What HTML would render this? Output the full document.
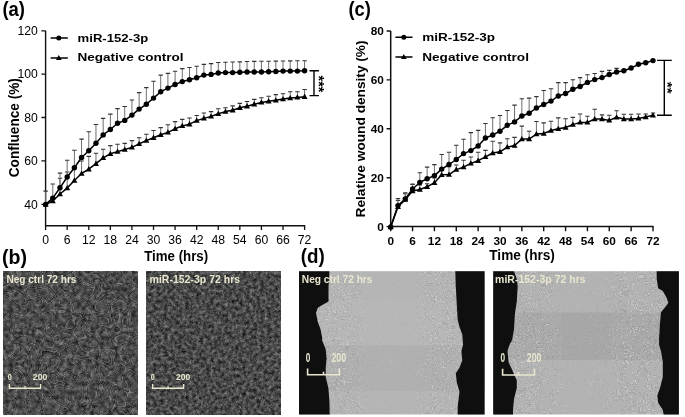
<!DOCTYPE html>
<html><head><meta charset="utf-8"><style>
html,body{margin:0;padding:0;background:#fff;}
svg{display:block;will-change:transform;filter:blur(0.3px);}
</style></head><body>
<svg width="685" height="417" viewBox="0 0 685 417">
<rect width="685" height="417" fill="#fff"/>
<defs><filter id="fb1" x="0" y="0" width="100%" height="100%" color-interpolation-filters="sRGB">
<feTurbulence type="fractalNoise" baseFrequency="0.22" numOctaves="2" seed="3" result="n1"/>
<feColorMatrix in="n1" type="matrix" values="0.45 0 0 0 0.06999999999999999  0.45 0 0 0 0.06999999999999999  0.45 0 0 0 0.06999999999999999  0 0 0 0 1" result="g1"/>
<feTurbulence type="fractalNoise" baseFrequency="0.07" numOctaves="1" seed="2" result="n2"/>
<feColorMatrix in="n2" type="matrix" values="1 0 0 0 0  1 0 0 0 0  1 0 0 0 0  0 0 0 0 1" result="g2"/>
<feComponentTransfer in="g2" result="c"><feFuncR type="table" tableValues="0.500 0.500 0.500 0.500 0.500 0.500 0.500 0.500 0.500 0.500 0.500 0.500 0.500 0.500 0.500 0.500 0.500 0.500 0.500 0.500 0.500 0.500 0.640 0.400 0.500 0.500 0.640 0.400 0.500 0.500 0.500 0.640 0.400 0.500 0.500 0.500 0.640 0.400 0.500 0.500 0.500 0.500 0.500 0.500 0.500 0.500 0.500 0.500 0.500 0.500 0.500 0.500 0.500 0.500 0.500 0.500 0.500 0.500 0.500 0.500 0.500"/><feFuncG type="table" tableValues="0.500 0.500 0.500 0.500 0.500 0.500 0.500 0.500 0.500 0.500 0.500 0.500 0.500 0.500 0.500 0.500 0.500 0.500 0.500 0.500 0.500 0.500 0.640 0.400 0.500 0.500 0.640 0.400 0.500 0.500 0.500 0.640 0.400 0.500 0.500 0.500 0.640 0.400 0.500 0.500 0.500 0.500 0.500 0.500 0.500 0.500 0.500 0.500 0.500 0.500 0.500 0.500 0.500 0.500 0.500 0.500 0.500 0.500 0.500 0.500 0.500"/><feFuncB type="table" tableValues="0.500 0.500 0.500 0.500 0.500 0.500 0.500 0.500 0.500 0.500 0.500 0.500 0.500 0.500 0.500 0.500 0.500 0.500 0.500 0.500 0.500 0.500 0.640 0.400 0.500 0.500 0.640 0.400 0.500 0.500 0.500 0.640 0.400 0.500 0.500 0.500 0.640 0.400 0.500 0.500 0.500 0.500 0.500 0.500 0.500 0.500 0.500 0.500 0.500 0.500 0.500 0.500 0.500 0.500 0.500 0.500 0.500 0.500 0.500 0.500 0.500"/></feComponentTransfer>
<feComposite in="g1" in2="c" operator="arithmetic" k1="0" k2="1" k3="1" k4="-0.5"/>
<feGaussianBlur stdDeviation="0.4"/>
</filter><filter id="fb2" x="0" y="0" width="100%" height="100%" color-interpolation-filters="sRGB">
<feTurbulence type="fractalNoise" baseFrequency="0.28" numOctaves="2" seed="5" result="n1"/>
<feColorMatrix in="n1" type="matrix" values="0.55 0 0 0 0.009999999999999953  0.55 0 0 0 0.009999999999999953  0.55 0 0 0 0.009999999999999953  0 0 0 0 1" result="g1"/>
<feTurbulence type="fractalNoise" baseFrequency="0.13" numOctaves="1" seed="6" result="n2"/>
<feColorMatrix in="n2" type="matrix" values="1 0 0 0 0  1 0 0 0 0  1 0 0 0 0  0 0 0 0 1" result="g2"/>
<feComponentTransfer in="g2" result="c"><feFuncR type="table" tableValues="0.500 0.500 0.500 0.500 0.500 0.500 0.500 0.500 0.500 0.500 0.500 0.500 0.500 0.500 0.500 0.500 0.500 0.500 0.500 0.500 0.500 0.500 0.500 0.500 0.600 0.420 0.500 0.500 0.500 0.500 0.600 0.420 0.500 0.500 0.500 0.500 0.600 0.420 0.500 0.500 0.500 0.500 0.500 0.500 0.500 0.500 0.500 0.500 0.500 0.500 0.500 0.500 0.500 0.500 0.500 0.500 0.500 0.500 0.500 0.500 0.500"/><feFuncG type="table" tableValues="0.500 0.500 0.500 0.500 0.500 0.500 0.500 0.500 0.500 0.500 0.500 0.500 0.500 0.500 0.500 0.500 0.500 0.500 0.500 0.500 0.500 0.500 0.500 0.500 0.600 0.420 0.500 0.500 0.500 0.500 0.600 0.420 0.500 0.500 0.500 0.500 0.600 0.420 0.500 0.500 0.500 0.500 0.500 0.500 0.500 0.500 0.500 0.500 0.500 0.500 0.500 0.500 0.500 0.500 0.500 0.500 0.500 0.500 0.500 0.500 0.500"/><feFuncB type="table" tableValues="0.500 0.500 0.500 0.500 0.500 0.500 0.500 0.500 0.500 0.500 0.500 0.500 0.500 0.500 0.500 0.500 0.500 0.500 0.500 0.500 0.500 0.500 0.500 0.500 0.600 0.420 0.500 0.500 0.500 0.500 0.600 0.420 0.500 0.500 0.500 0.500 0.600 0.420 0.500 0.500 0.500 0.500 0.500 0.500 0.500 0.500 0.500 0.500 0.500 0.500 0.500 0.500 0.500 0.500 0.500 0.500 0.500 0.500 0.500 0.500 0.500"/></feComponentTransfer>
<feComposite in="g1" in2="c" operator="arithmetic" k1="0" k2="1" k3="1" k4="-0.5"/>
<feGaussianBlur stdDeviation="0.45"/>
</filter><filter id="fd" x="0" y="0" width="100%" height="100%" color-interpolation-filters="sRGB">
<feTurbulence type="fractalNoise" baseFrequency="0.085" numOctaves="1" seed="9"/>
<feColorMatrix type="matrix" values="1 0 0 0 0  1 0 0 0 0  1 0 0 0 0  1 0 0 0 0"/>
<feComponentTransfer><feFuncR type="table" tableValues="0.500 0.500 0.500 0.500 0.500 0.500 0.500 0.500 0.500 0.500 0.500 0.500 0.500 0.500 0.500 0.500 0.500 0.500 0.500 0.500 0.500 0.500 0.500 1.000 0.250 0.500 0.500 0.500 1.000 0.250 0.500 0.500 1.000 0.250 0.500 0.500 0.500 1.000 0.250 0.500 0.500 0.500 0.500 0.500 0.500 0.500 0.500 0.500 0.500 0.500 0.500 0.500 0.500 0.500 0.500 0.500 0.500 0.500 0.500 0.500 0.500"/><feFuncG type="table" tableValues="0.500 0.500 0.500 0.500 0.500 0.500 0.500 0.500 0.500 0.500 0.500 0.500 0.500 0.500 0.500 0.500 0.500 0.500 0.500 0.500 0.500 0.500 0.500 1.000 0.250 0.500 0.500 0.500 1.000 0.250 0.500 0.500 1.000 0.250 0.500 0.500 0.500 1.000 0.250 0.500 0.500 0.500 0.500 0.500 0.500 0.500 0.500 0.500 0.500 0.500 0.500 0.500 0.500 0.500 0.500 0.500 0.500 0.500 0.500 0.500 0.500"/><feFuncB type="table" tableValues="0.500 0.500 0.500 0.500 0.500 0.500 0.500 0.500 0.500 0.500 0.500 0.500 0.500 0.500 0.500 0.500 0.500 0.500 0.500 0.500 0.500 0.500 0.500 1.000 0.250 0.500 0.500 0.500 1.000 0.250 0.500 0.500 1.000 0.250 0.500 0.500 0.500 1.000 0.250 0.500 0.500 0.500 0.500 0.500 0.500 0.500 0.500 0.500 0.500 0.500 0.500 0.500 0.500 0.500 0.500 0.500 0.500 0.500 0.500 0.500 0.500"/><feFuncA type="table" tableValues="0.000 0.000 0.000 0.000 0.000 0.000 0.000 0.000 0.000 0.000 0.000 0.000 0.000 0.000 0.000 0.000 0.000 0.000 0.000 0.000 0.000 0.000 0.000 1.000 0.450 0.000 0.000 0.000 1.000 0.450 0.000 0.000 1.000 0.450 0.000 0.000 0.000 1.000 0.450 0.000 0.000 0.000 0.000 0.000 0.000 0.000 0.000 0.000 0.000 0.000 0.000 0.000 0.000 0.000 0.000 0.000 0.000 0.000 0.000 0.000 0.000"/></feComponentTransfer>
<feGaussianBlur stdDeviation="0.45"/>
</filter></defs>
<rect x="3" y="271.2" width="135" height="143.4" filter="url(#fb1)"/>
<rect x="146.2" y="271.2" width="134.6" height="143.4" filter="url(#fb2)"/>
<rect x="299" y="271.2" width="185.6" height="143.3" fill="#b5b5b5"/>
<rect x="299" y="345.2" width="185.6" height="45.8" fill="#b0b0b0"/>
<rect x="299" y="299" width="185.6" height="46.2" fill="#b7b7b7"/>
<defs><linearGradient id="gd1" gradientUnits="userSpaceOnUse" x1="299" x2="484.6" y1="0" y2="0">
<stop offset="0" stop-color="#fff"/><stop offset="0.25" stop-color="#fff"/><stop offset="0.38" stop-color="#333"/><stop offset="0.62" stop-color="#333"/><stop offset="0.72" stop-color="#fff"/><stop offset="1" stop-color="#fff"/></linearGradient>
<mask id="md1"><rect x="299" y="271.2" width="185.6" height="143.3" fill="url(#gd1)"/></mask>
<linearGradient id="gd2" gradientUnits="userSpaceOnUse" x1="493.2" x2="678.9" y1="0" y2="0">
<stop offset="0" stop-color="#fff"/><stop offset="0.3" stop-color="#ddd"/><stop offset="0.4" stop-color="#444"/><stop offset="0.6" stop-color="#555"/><stop offset="0.7" stop-color="#fff"/><stop offset="1" stop-color="#fff"/></linearGradient>
<mask id="md2"><rect x="493.2" y="271.2" width="185.7" height="143.3" fill="url(#gd2)"/></mask></defs>
<rect x="299" y="271.2" width="185.6" height="143.3" filter="url(#fd)" opacity="0.3" mask="url(#md1)"/>
<path d="M299 271.2H329.4L328.5 288L328.5 301.4L322.3 305L317.8 307.7L316 313L317.8 322L320.5 329.3L322.3 338.3L322 340L325.7 349.2L326.6 358.5L325.7 367.7L325.7 377L328.4 388L329.4 400.9L329.7 414.5H299Z" fill="#0f0f0f"/>
<path d="M484.6 271.2H455.3L455.8 286.5L456.8 304.9L457.7 319.7L459.5 327L462.3 334.4L463 345L461.4 351L462.3 360.3L459.5 367.7L455.8 373.2L456.8 382.4L459.5 391.7L458.6 399L457.7 406.4L457.7 414.5H484.6Z" fill="#0f0f0f"/>
<rect x="493.2" y="271.2" width="185.7" height="143.3" fill="#b3b3b3"/>
<rect x="493.2" y="312.6" width="185.7" height="47.2" fill="#aaaaaa"/>
<rect x="562" y="312.6" width="50" height="47.2" fill="#a4a4a4" opacity="0.5"/>
<rect x="493.2" y="271.2" width="185.7" height="143.3" filter="url(#fd)" opacity="0.33" mask="url(#md2)"/>
<path d="M493.2 271.2H514L516.8 279L517.7 286.5L516.8 301.2L514.9 314L514 328.9L512.1 340L509.4 345L507.5 351L508.5 362L512 369.5L516.8 380.6L516.8 388L514 399L513 410L513 414.5H493.2Z" fill="#0f0f0f"/>
<path d="M678.9 271.2H656.7L656.7 279L658.2 288.3L662.8 291L666.5 297.5L668.4 303L664.7 307.7L661 312.3L660 323.4L659.1 338L659.1 345L661 351L662.8 362L662.8 377L660 388L657.3 395.4L658.2 402.7L662.8 410L663.7 414.5H678.9Z" fill="#0f0f0f"/>
<text x="6.4" y="282.6" text-anchor="start" fill="#e9e6cf" style="font:bold 10.3px 'Liberation Sans',sans-serif" textLength="70.1" lengthAdjust="spacingAndGlyphs">Neg ctrl 72 hrs</text>
<text x="149.6" y="282.6" text-anchor="start" fill="#e9e6cf" style="font:bold 10.3px 'Liberation Sans',sans-serif" textLength="90.5" lengthAdjust="spacingAndGlyphs">miR-152-3p 72 hrs</text>
<text x="301.8" y="282.6" text-anchor="start" fill="#e9e6cf" style="font:bold 10.3px 'Liberation Sans',sans-serif" textLength="70.7" lengthAdjust="spacingAndGlyphs">Neg ctrl 72 hrs</text>
<text x="495.1" y="282.6" text-anchor="start" fill="#e9e6cf" style="font:bold 10.3px 'Liberation Sans',sans-serif" textLength="90.5" lengthAdjust="spacingAndGlyphs">miR-152-3p 72 hrs</text>
<path d="M9.4 384.1V388.2H40.6V384.1M25 388.2V386.2" stroke="#e9e6cf" stroke-width="1.4" fill="none"/>
<text x="7.8" y="380.3" text-anchor="start" fill="#e9e6cf" style="font:bold 9.078212290502794px 'Liberation Sans',sans-serif" textLength="4" lengthAdjust="spacingAndGlyphs">0</text>
<text x="32.8" y="380.3" text-anchor="start" fill="#e9e6cf" style="font:bold 9.078212290502794px 'Liberation Sans',sans-serif" textLength="14.6" lengthAdjust="spacingAndGlyphs">200</text>
<path d="M152.6 384.1V388.2H183.6V384.1M168.1 388.2V386.2" stroke="#e9e6cf" stroke-width="1.4" fill="none"/>
<text x="150.8" y="380.3" text-anchor="start" fill="#e9e6cf" style="font:bold 9.078212290502794px 'Liberation Sans',sans-serif" textLength="4" lengthAdjust="spacingAndGlyphs">0</text>
<text x="176" y="380.3" text-anchor="start" fill="#e9e6cf" style="font:bold 9.078212290502794px 'Liberation Sans',sans-serif" textLength="14.2" lengthAdjust="spacingAndGlyphs">200</text>
<path d="M307.6 368.5V374.8H339.4V368.5M323.5 374.8V371.8" stroke="#e9e6cf" stroke-width="1.6" fill="none"/>
<text x="305.7" y="362.3" text-anchor="start" fill="#e9e6cf" style="font:bold 12.569832402234637px 'Liberation Sans',sans-serif" textLength="4.6" lengthAdjust="spacingAndGlyphs">0</text>
<text x="331.4" y="362.3" text-anchor="start" fill="#e9e6cf" style="font:bold 12.569832402234637px 'Liberation Sans',sans-serif" textLength="14.8" lengthAdjust="spacingAndGlyphs">200</text>
<path d="M502.6 368.7V375H534.4V368.7M518.5 375V372" stroke="#e9e6cf" stroke-width="1.6" fill="none"/>
<text x="500.5" y="362.3" text-anchor="start" fill="#e9e6cf" style="font:bold 12.569832402234637px 'Liberation Sans',sans-serif" textLength="4.6" lengthAdjust="spacingAndGlyphs">0</text>
<text x="526.8" y="362.3" text-anchor="start" fill="#e9e6cf" style="font:bold 12.569832402234637px 'Liberation Sans',sans-serif" textLength="14.7" lengthAdjust="spacingAndGlyphs">200</text>
<text x="2.4" y="16.4" text-anchor="start" fill="#000" style="font:bold 21px 'Liberation Sans',sans-serif" textLength="22.6" lengthAdjust="spacingAndGlyphs">(a)</text>
<path d="M45.6 30.8V226.3M45 225.7H305.2" stroke="#111" stroke-width="1.4" fill="none"/>
<path d="M41.4 30.8H45.6M41.4 74.1H45.6M41.4 117.5H45.6M41.4 160.9H45.6M41.4 204.3H45.6" stroke="#111" stroke-width="1.3"/>
<path d="M45.6 225.7V229.9M67.18 225.7V229.9M88.77 225.7V229.9M110.35 225.7V229.9M131.93 225.7V229.9M153.52 225.7V229.9M175.1 225.7V229.9M196.68 225.7V229.9M218.27 225.7V229.9M239.85 225.7V229.9M261.43 225.7V229.9M283.02 225.7V229.9M304.6 225.7V229.9" stroke="#111" stroke-width="1.3"/>
<text x="37.9" y="35.1" text-anchor="end" fill="#000" style="font:12.2px 'Liberation Sans',sans-serif">120</text>
<text x="37.9" y="78.4" text-anchor="end" fill="#000" style="font:12.2px 'Liberation Sans',sans-serif">100</text>
<text x="37.9" y="121.8" text-anchor="end" fill="#000" style="font:12.2px 'Liberation Sans',sans-serif">80</text>
<text x="37.9" y="165.2" text-anchor="end" fill="#000" style="font:12.2px 'Liberation Sans',sans-serif">60</text>
<text x="37.9" y="208.6" text-anchor="end" fill="#000" style="font:12.2px 'Liberation Sans',sans-serif">40</text>
<text x="45.6" y="243.7" text-anchor="middle" fill="#000" style="font:12.2px 'Liberation Sans',sans-serif">0</text>
<text x="67.18" y="243.7" text-anchor="middle" fill="#000" style="font:12.2px 'Liberation Sans',sans-serif">6</text>
<text x="88.77" y="243.7" text-anchor="middle" fill="#000" style="font:12.2px 'Liberation Sans',sans-serif">12</text>
<text x="110.35" y="243.7" text-anchor="middle" fill="#000" style="font:12.2px 'Liberation Sans',sans-serif">18</text>
<text x="131.93" y="243.7" text-anchor="middle" fill="#000" style="font:12.2px 'Liberation Sans',sans-serif">24</text>
<text x="153.52" y="243.7" text-anchor="middle" fill="#000" style="font:12.2px 'Liberation Sans',sans-serif">30</text>
<text x="175.1" y="243.7" text-anchor="middle" fill="#000" style="font:12.2px 'Liberation Sans',sans-serif">36</text>
<text x="196.68" y="243.7" text-anchor="middle" fill="#000" style="font:12.2px 'Liberation Sans',sans-serif">42</text>
<text x="218.27" y="243.7" text-anchor="middle" fill="#000" style="font:12.2px 'Liberation Sans',sans-serif">48</text>
<text x="239.85" y="243.7" text-anchor="middle" fill="#000" style="font:12.2px 'Liberation Sans',sans-serif">54</text>
<text x="261.43" y="243.7" text-anchor="middle" fill="#000" style="font:12.2px 'Liberation Sans',sans-serif">60</text>
<text x="283.02" y="243.7" text-anchor="middle" fill="#000" style="font:12.2px 'Liberation Sans',sans-serif">66</text>
<text x="304.6" y="243.7" text-anchor="middle" fill="#000" style="font:12.2px 'Liberation Sans',sans-serif">72</text>
<text x="144.2" y="260.8" text-anchor="start" fill="#000" style="font:bold 13.8px 'Liberation Sans',sans-serif" textLength="64" lengthAdjust="spacingAndGlyphs">Time (hrs)</text>
<text transform="translate(18.8 177.2) rotate(-90)" style="font:bold 14px 'Liberation Sans',sans-serif" textLength="99" lengthAdjust="spacingAndGlyphs">Confluence (%)</text>
<path d="M50.6 38H67.8M50.6 58H67.8" stroke="#000" stroke-width="1.5"/>
<circle cx="58.8" cy="38" r="2.5"/>
<path d="M58.8 55L61.7 60.1L55.9 60.1Z"/>
<text x="77.6" y="41.7" text-anchor="start" fill="#000" style="font:bold 11.6px 'Liberation Sans',sans-serif" textLength="70.6" lengthAdjust="spacingAndGlyphs">miR-152-3p</text>
<text x="77.4" y="61.2" text-anchor="start" fill="#000" style="font:bold 11.6px 'Liberation Sans',sans-serif" textLength="106.2" lengthAdjust="spacingAndGlyphs">Negative control</text>
<path d="M52.79 201V197M59.99 194V178.2M67.18 188.1V172M74.38 180.5V167.4M81.57 173.5V161M88.77 169.2V156.4M95.96 163.7V153.2M103.16 157.9V149.2M110.35 153.8V145.6M117.54 151.6V144.2M124.74 149.5V143.4M131.93 147.4V140.6M139.13 143.8V137.7M146.32 140.6V134.2M153.52 137.7V130.5M160.71 134.8V127.6M167.91 132.4V124.7M175.1 128.8V121.6M182.29 125.9V119.4M189.49 124.2V118M196.68 120.6V115.5M203.88 118.4V113M211.07 116.4V111.6M218.27 113.8V108.7M225.46 111.6V107.7M232.66 110.2V105.9M239.85 107.7V103.4M247.04 106.2V101.5M254.24 104.2V99.4M261.43 102.4V97.7M268.63 101.2V96.2M275.82 100.3V94.6M283.02 99.1V93.8M290.21 98V91.7M297.41 97.4V91.7M304.6 96.7V89.5" stroke="#6e6e6e" stroke-width="1" fill="none"/>
<path d="M50.59 197H54.99M57.79 178.2H62.19M64.98 172H69.38M72.18 167.4H76.58M79.37 161H83.77M86.57 156.4H90.97M93.76 153.2H98.16M100.96 149.2H105.36M108.15 145.6H112.55M115.34 144.2H119.74M122.54 143.4H126.94M129.73 140.6H134.13M136.93 137.7H141.33M144.12 134.2H148.52M151.32 130.5H155.72M158.51 127.6H162.91M165.71 124.7H170.11M172.9 121.6H177.3M180.09 119.4H184.49M187.29 118H191.69M194.48 115.5H198.88M201.68 113H206.08M208.87 111.6H213.27M216.07 108.7H220.47M223.26 107.7H227.66M230.46 105.9H234.86M237.65 103.4H242.05M244.84 101.5H249.24M252.04 99.4H256.44M259.23 97.7H263.63M266.43 96.2H270.83M273.62 94.6H278.02M280.82 93.8H285.22M288.01 91.7H292.41M295.21 91.7H299.61M302.4 89.5H306.8" stroke="#333" stroke-width="1.1" fill="none"/>
<path d="M45.6 204.4 L52.79 201 L59.99 194 L67.18 188.1 L74.38 180.5 L81.57 173.5 L88.77 169.2 L95.96 163.7 L103.16 157.9 L110.35 153.8 L117.54 151.6 L124.74 149.5 L131.93 147.4 L139.13 143.8 L146.32 140.6 L153.52 137.7 L160.71 134.8 L167.91 132.4 L175.1 128.8 L182.29 125.9 L189.49 124.2 L196.68 120.6 L203.88 118.4 L211.07 116.4 L218.27 113.8 L225.46 111.6 L232.66 110.2 L239.85 107.7 L247.04 106.2 L254.24 104.2 L261.43 102.4 L268.63 101.2 L275.82 100.3 L283.02 99.1 L290.21 98 L297.41 97.4 L304.6 96.7" stroke="#000" stroke-width="1.5" fill="none" stroke-linejoin="round"/>
<path d="M45.6 201.3L48.6 206.6L42.6 206.6ZM52.79 197.9L55.79 203.2L49.79 203.2ZM59.99 190.9L62.99 196.2L56.99 196.2ZM67.18 185L70.18 190.3L64.18 190.3ZM74.38 177.4L77.38 182.7L71.38 182.7ZM81.57 170.4L84.57 175.7L78.57 175.7ZM88.77 166.1L91.77 171.4L85.77 171.4ZM95.96 160.6L98.96 165.9L92.96 165.9ZM103.16 154.8L106.16 160.1L100.16 160.1ZM110.35 150.7L113.35 156L107.35 156ZM117.54 148.5L120.54 153.8L114.54 153.8ZM124.74 146.4L127.74 151.7L121.74 151.7ZM131.93 144.3L134.93 149.6L128.93 149.6ZM139.13 140.7L142.13 146L136.13 146ZM146.32 137.5L149.32 142.8L143.32 142.8ZM153.52 134.6L156.52 139.9L150.52 139.9ZM160.71 131.7L163.71 137L157.71 137ZM167.91 129.3L170.91 134.6L164.91 134.6ZM175.1 125.7L178.1 131L172.1 131ZM182.29 122.8L185.29 128.1L179.29 128.1ZM189.49 121.1L192.49 126.4L186.49 126.4ZM196.68 117.5L199.68 122.8L193.68 122.8ZM203.88 115.3L206.88 120.6L200.88 120.6ZM211.07 113.3L214.07 118.6L208.07 118.6ZM218.27 110.7L221.27 116L215.27 116ZM225.46 108.5L228.46 113.8L222.46 113.8ZM232.66 107.1L235.66 112.4L229.66 112.4ZM239.85 104.6L242.85 109.9L236.85 109.9ZM247.04 103.1L250.04 108.4L244.04 108.4ZM254.24 101.1L257.24 106.4L251.24 106.4ZM261.43 99.3L264.43 104.6L258.43 104.6ZM268.63 98.1L271.63 103.4L265.63 103.4ZM275.82 97.2L278.82 102.5L272.82 102.5ZM283.02 96L286.02 101.3L280.02 101.3ZM290.21 94.9L293.21 100.2L287.21 100.2ZM297.41 94.3L300.41 99.6L294.41 99.6ZM304.6 93.6L307.6 98.9L301.6 98.9Z" fill="#000"/>
<path d="M45.6 204.4V191.1M52.79 198.1V184M59.99 187.8V173.1M67.18 177V160.3M74.38 167.7V150.3M81.57 157.5V139.1M88.77 150.8V131.7M95.96 143.2V124.5M103.16 134.9V118.4M110.35 129.5V114.1M117.54 123.3V108.6M124.74 120.4V106.5M131.93 115.1V100M139.13 109.1V92.6M146.32 104.3V87.6M153.52 98.1V81.3M160.71 91.7V75.1M167.91 88.1V73.4M175.1 84.5V71.2M182.29 81.6V68.6M189.49 79.8V67.5M196.68 77.7V66.2M203.88 75.1V64.4M211.07 74.4V63.6M218.27 73V62.5M225.46 72.6V62.2M232.66 72.6V62M239.85 72.3V61.9M247.04 72V61.5M254.24 72V61.4M261.43 72V61.3M268.63 71.8V61.2M275.82 71.5V61.1M283.02 71.1V61M290.21 71.1V60.9M297.41 71.1V60.8M304.6 70.8V60.8" stroke="#6e6e6e" stroke-width="1" fill="none"/>
<path d="M43.4 191.1H47.8M50.59 184H54.99M57.79 173.1H62.19M64.98 160.3H69.38M72.18 150.3H76.58M79.37 139.1H83.77M86.57 131.7H90.97M93.76 124.5H98.16M100.96 118.4H105.36M108.15 114.1H112.55M115.34 108.6H119.74M122.54 106.5H126.94M129.73 100H134.13M136.93 92.6H141.33M144.12 87.6H148.52M151.32 81.3H155.72M158.51 75.1H162.91M165.71 73.4H170.11M172.9 71.2H177.3M180.09 68.6H184.49M187.29 67.5H191.69M194.48 66.2H198.88M201.68 64.4H206.08M208.87 63.6H213.27M216.07 62.5H220.47M223.26 62.2H227.66M230.46 62H234.86M237.65 61.9H242.05M244.84 61.5H249.24M252.04 61.4H256.44M259.23 61.3H263.63M266.43 61.2H270.83M273.62 61.1H278.02M280.82 61H285.22M288.01 60.9H292.41M295.21 60.8H299.61M302.4 60.8H306.8" stroke="#333" stroke-width="1.1" fill="none"/>
<path d="M45.6 204.4 L52.79 198.1 L59.99 187.8 L67.18 177 L74.38 167.7 L81.57 157.5 L88.77 150.8 L95.96 143.2 L103.16 134.9 L110.35 129.5 L117.54 123.3 L124.74 120.4 L131.93 115.1 L139.13 109.1 L146.32 104.3 L153.52 98.1 L160.71 91.7 L167.91 88.1 L175.1 84.5 L182.29 81.6 L189.49 79.8 L196.68 77.7 L203.88 75.1 L211.07 74.4 L218.27 73 L225.46 72.6 L232.66 72.6 L239.85 72.3 L247.04 72 L254.24 72 L261.43 72 L268.63 71.8 L275.82 71.5 L283.02 71.1 L290.21 71.1 L297.41 71.1 L304.6 70.8" stroke="#000" stroke-width="1.5" fill="none" stroke-linejoin="round"/>
<g fill="#000"><circle cx="45.6" cy="204.4" r="2.7"/><circle cx="52.79" cy="198.1" r="2.7"/><circle cx="59.99" cy="187.8" r="2.7"/><circle cx="67.18" cy="177" r="2.7"/><circle cx="74.38" cy="167.7" r="2.7"/><circle cx="81.57" cy="157.5" r="2.7"/><circle cx="88.77" cy="150.8" r="2.7"/><circle cx="95.96" cy="143.2" r="2.7"/><circle cx="103.16" cy="134.9" r="2.7"/><circle cx="110.35" cy="129.5" r="2.7"/><circle cx="117.54" cy="123.3" r="2.7"/><circle cx="124.74" cy="120.4" r="2.7"/><circle cx="131.93" cy="115.1" r="2.7"/><circle cx="139.13" cy="109.1" r="2.7"/><circle cx="146.32" cy="104.3" r="2.7"/><circle cx="153.52" cy="98.1" r="2.7"/><circle cx="160.71" cy="91.7" r="2.7"/><circle cx="167.91" cy="88.1" r="2.7"/><circle cx="175.1" cy="84.5" r="2.7"/><circle cx="182.29" cy="81.6" r="2.7"/><circle cx="189.49" cy="79.8" r="2.7"/><circle cx="196.68" cy="77.7" r="2.7"/><circle cx="203.88" cy="75.1" r="2.7"/><circle cx="211.07" cy="74.4" r="2.7"/><circle cx="218.27" cy="73" r="2.7"/><circle cx="225.46" cy="72.6" r="2.7"/><circle cx="232.66" cy="72.6" r="2.7"/><circle cx="239.85" cy="72.3" r="2.7"/><circle cx="247.04" cy="72" r="2.7"/><circle cx="254.24" cy="72" r="2.7"/><circle cx="261.43" cy="72" r="2.7"/><circle cx="268.63" cy="71.8" r="2.7"/><circle cx="275.82" cy="71.5" r="2.7"/><circle cx="283.02" cy="71.1" r="2.7"/><circle cx="290.21" cy="71.1" r="2.7"/><circle cx="297.41" cy="71.1" r="2.7"/><circle cx="304.6" cy="70.8" r="2.7"/></g>
<path d="M309.5 70.8H318.9M314 70.8V95.6M309.5 95.6H318.9" stroke="#000" stroke-width="1.4" fill="none"/>
<text transform="translate(314.1 75.6) rotate(90)" style="font:bold 14px 'Liberation Sans',sans-serif" textLength="16.8" lengthAdjust="spacingAndGlyphs">***</text>
<text x="348.4" y="15.5" text-anchor="start" fill="#000" style="font:bold 21px 'Liberation Sans',sans-serif" textLength="22.4" lengthAdjust="spacingAndGlyphs">(c)</text>
<path d="M390.7 31V227.3M390 226.6H653.6" stroke="#111" stroke-width="1.5" fill="none"/>
<path d="M386.6 31H390.7M386.6 79.9H390.7M386.6 128.8H390.7M386.6 177.7H390.7M386.6 226.6H390.7" stroke="#111" stroke-width="1.4"/>
<path d="M390.7 226.6V231.3M412.56 226.6V231.3M434.42 226.6V231.3M456.27 226.6V231.3M478.13 226.6V231.3M499.99 226.6V231.3M521.85 226.6V231.3M543.71 226.6V231.3M565.57 226.6V231.3M587.42 226.6V231.3M609.28 226.6V231.3M631.14 226.6V231.3M653 226.6V231.3" stroke="#111" stroke-width="1.4"/>
<text x="383.9" y="35.2" text-anchor="end" fill="#000" style="font:bold 11.8px 'Liberation Sans',sans-serif">80</text>
<text x="383.9" y="84.1" text-anchor="end" fill="#000" style="font:bold 11.8px 'Liberation Sans',sans-serif">60</text>
<text x="383.9" y="133" text-anchor="end" fill="#000" style="font:bold 11.8px 'Liberation Sans',sans-serif">40</text>
<text x="383.9" y="181.9" text-anchor="end" fill="#000" style="font:bold 11.8px 'Liberation Sans',sans-serif">20</text>
<text x="383.9" y="230.8" text-anchor="end" fill="#000" style="font:bold 11.8px 'Liberation Sans',sans-serif">0</text>
<text x="390.7" y="245" text-anchor="middle" fill="#000" style="font:bold 11.8px 'Liberation Sans',sans-serif">0</text>
<text x="412.56" y="245" text-anchor="middle" fill="#000" style="font:bold 11.8px 'Liberation Sans',sans-serif">6</text>
<text x="434.42" y="245" text-anchor="middle" fill="#000" style="font:bold 11.8px 'Liberation Sans',sans-serif">12</text>
<text x="456.27" y="245" text-anchor="middle" fill="#000" style="font:bold 11.8px 'Liberation Sans',sans-serif">18</text>
<text x="478.13" y="245" text-anchor="middle" fill="#000" style="font:bold 11.8px 'Liberation Sans',sans-serif">24</text>
<text x="499.99" y="245" text-anchor="middle" fill="#000" style="font:bold 11.8px 'Liberation Sans',sans-serif">30</text>
<text x="521.85" y="245" text-anchor="middle" fill="#000" style="font:bold 11.8px 'Liberation Sans',sans-serif">36</text>
<text x="543.71" y="245" text-anchor="middle" fill="#000" style="font:bold 11.8px 'Liberation Sans',sans-serif">42</text>
<text x="565.57" y="245" text-anchor="middle" fill="#000" style="font:bold 11.8px 'Liberation Sans',sans-serif">48</text>
<text x="587.42" y="245" text-anchor="middle" fill="#000" style="font:bold 11.8px 'Liberation Sans',sans-serif">54</text>
<text x="609.28" y="245" text-anchor="middle" fill="#000" style="font:bold 11.8px 'Liberation Sans',sans-serif">60</text>
<text x="631.14" y="245" text-anchor="middle" fill="#000" style="font:bold 11.8px 'Liberation Sans',sans-serif">66</text>
<text x="653" y="245" text-anchor="middle" fill="#000" style="font:bold 11.8px 'Liberation Sans',sans-serif">72</text>
<text x="489.3" y="260.2" text-anchor="start" fill="#000" style="font:bold 14px 'Liberation Sans',sans-serif" textLength="65.6" lengthAdjust="spacingAndGlyphs">Time (hrs)</text>
<text transform="translate(365.2 217.5) rotate(-90)" style="font:bold 13.3px 'Liberation Sans',sans-serif" textLength="177.1" lengthAdjust="spacingAndGlyphs">Relative wound density (%)</text>
<path d="M395.4 37.2H412.5M395.4 57H412.5" stroke="#000" stroke-width="1.5"/>
<circle cx="403.8" cy="37.2" r="2.5"/>
<path d="M403.8 54L406.7 59.1L400.9 59.1Z"/>
<text x="422.2" y="41.1" text-anchor="start" fill="#000" style="font:bold 11.6px 'Liberation Sans',sans-serif" textLength="72.8" lengthAdjust="spacingAndGlyphs">miR-152-3p</text>
<text x="422.2" y="60.7" text-anchor="start" fill="#000" style="font:bold 11.6px 'Liberation Sans',sans-serif" textLength="106.8" lengthAdjust="spacingAndGlyphs">Negative control</text>
<path d="M397.99 206.8V200.5M405.27 199.6V193.8M412.56 191V184.5M419.84 189.5V185M427.13 186.8V183.7M434.42 182.7V178M441.7 174.8V170M448.99 174.6V166.7M456.27 169.6V165M463.56 167.1V160.3M470.85 163.4V157M478.13 160.7V152.3M485.42 156.8V150.4M492.71 153V141.3M499.99 151.8V142.9M507.28 147.1V138.7M514.56 145.5V137.4M521.85 139.1V126.1M529.14 139.1V131.2M536.42 134V121.5M543.71 133.5V122.9M550.99 130.5V121.3M558.28 128.8V117.9M565.57 127.5V118.7M572.85 124.6V117.4M580.14 122.4V114M587.42 122.4V116.2M594.71 119V109.2M602 119V114.9M609.28 120.4V115.3M616.57 117.3V110.8M623.86 119V114.3M631.14 119V114.3M638.43 118.4V114M645.71 117V114M653 115.3V113" stroke="#6e6e6e" stroke-width="1" fill="none"/>
<path d="M395.79 200.5H400.19M403.07 193.8H407.47M410.36 184.5H414.76M417.64 185H422.04M424.93 183.7H429.33M432.22 178H436.62M439.5 170H443.9M446.79 166.7H451.19M454.07 165H458.47M461.36 160.3H465.76M468.65 157H473.05M475.93 152.3H480.33M483.22 150.4H487.62M490.51 141.3H494.91M497.79 142.9H502.19M505.08 138.7H509.48M512.36 137.4H516.76M519.65 126.1H524.05M526.94 131.2H531.34M534.22 121.5H538.62M541.51 122.9H545.91M548.79 121.3H553.19M556.08 117.9H560.48M563.37 118.7H567.77M570.65 117.4H575.05M577.94 114H582.34M585.22 116.2H589.62M592.51 109.2H596.91M599.8 114.9H604.2M607.08 115.3H611.48M614.37 110.8H618.77M621.66 114.3H626.06M628.94 114.3H633.34M636.23 114H640.63M643.51 114H647.91M650.8 113H655.2" stroke="#333" stroke-width="1.1" fill="none"/>
<path d="M390.7 227 L397.99 206.8 L405.27 199.6 L412.56 191 L419.84 189.5 L427.13 186.8 L434.42 182.7 L441.7 174.8 L448.99 174.6 L456.27 169.6 L463.56 167.1 L470.85 163.4 L478.13 160.7 L485.42 156.8 L492.71 153 L499.99 151.8 L507.28 147.1 L514.56 145.5 L521.85 139.1 L529.14 139.1 L536.42 134 L543.71 133.5 L550.99 130.5 L558.28 128.8 L565.57 127.5 L572.85 124.6 L580.14 122.4 L587.42 122.4 L594.71 119 L602 119 L609.28 120.4 L616.57 117.3 L623.86 119 L631.14 119 L638.43 118.4 L645.71 117 L653 115.3" stroke="#000" stroke-width="1.5" fill="none" stroke-linejoin="round"/>
<path d="M390.7 223.9L393.7 229.2L387.7 229.2ZM397.99 203.7L400.99 209L394.99 209ZM405.27 196.5L408.27 201.8L402.27 201.8ZM412.56 187.9L415.56 193.2L409.56 193.2ZM419.84 186.4L422.84 191.7L416.84 191.7ZM427.13 183.7L430.13 189L424.13 189ZM434.42 179.6L437.42 184.9L431.42 184.9ZM441.7 171.7L444.7 177L438.7 177ZM448.99 171.5L451.99 176.8L445.99 176.8ZM456.27 166.5L459.27 171.8L453.27 171.8ZM463.56 164L466.56 169.3L460.56 169.3ZM470.85 160.3L473.85 165.6L467.85 165.6ZM478.13 157.6L481.13 162.9L475.13 162.9ZM485.42 153.7L488.42 159L482.42 159ZM492.71 149.9L495.71 155.2L489.71 155.2ZM499.99 148.7L502.99 154L496.99 154ZM507.28 144L510.28 149.3L504.28 149.3ZM514.56 142.4L517.56 147.7L511.56 147.7ZM521.85 136L524.85 141.3L518.85 141.3ZM529.14 136L532.14 141.3L526.14 141.3ZM536.42 130.9L539.42 136.2L533.42 136.2ZM543.71 130.4L546.71 135.7L540.71 135.7ZM550.99 127.4L553.99 132.7L547.99 132.7ZM558.28 125.7L561.28 131L555.28 131ZM565.57 124.4L568.57 129.7L562.57 129.7ZM572.85 121.5L575.85 126.8L569.85 126.8ZM580.14 119.3L583.14 124.6L577.14 124.6ZM587.42 119.3L590.42 124.6L584.42 124.6ZM594.71 115.9L597.71 121.2L591.71 121.2ZM602 115.9L605 121.2L599 121.2ZM609.28 117.3L612.28 122.6L606.28 122.6ZM616.57 114.2L619.57 119.5L613.57 119.5ZM623.86 115.9L626.86 121.2L620.86 121.2ZM631.14 115.9L634.14 121.2L628.14 121.2ZM638.43 115.3L641.43 120.6L635.43 120.6ZM645.71 113.9L648.71 119.2L642.71 119.2ZM653 112.2L656 117.5L650 117.5Z" fill="#000"/>
<path d="M397.99 205.6V198.6M405.27 198.9V192.7M412.56 189V184M419.84 182.5V172.7M427.13 178.7V167.1M434.42 175.6V164.6M441.7 169.1V154.5M448.99 164.5V152.3M456.27 159.5V145.2M463.56 153.6V139.3M470.85 150.6V132.6M478.13 146V130.4M485.42 138V123.5M492.71 135V117.7M499.99 131.2V115.5M507.28 125.3V110.5M514.56 121.9V105.1M521.85 116V98.7M529.14 113.2V98.1M536.42 108V96.6M543.71 104.5V90.5M550.99 101.1V88.8M558.28 96V82.6M565.57 93.5V82.6M572.85 89.3V79.7M580.14 86.5V77.6M587.42 82.4V74.8M594.71 79.6V73.5M602 77.6V71.4M609.28 74.5V70.4M616.57 72V68.4" stroke="#6e6e6e" stroke-width="1" fill="none"/>
<path d="M395.79 198.6H400.19M403.07 192.7H407.47M410.36 184H414.76M417.64 172.7H422.04M424.93 167.1H429.33M432.22 164.6H436.62M439.5 154.5H443.9M446.79 152.3H451.19M454.07 145.2H458.47M461.36 139.3H465.76M468.65 132.6H473.05M475.93 130.4H480.33M483.22 123.5H487.62M490.51 117.7H494.91M497.79 115.5H502.19M505.08 110.5H509.48M512.36 105.1H516.76M519.65 98.7H524.05M526.94 98.1H531.34M534.22 96.6H538.62M541.51 90.5H545.91M548.79 88.8H553.19M556.08 82.6H560.48M563.37 82.6H567.77M570.65 79.7H575.05M577.94 77.6H582.34M585.22 74.8H589.62M592.51 73.5H596.91M599.8 71.4H604.2M607.08 70.4H611.48M614.37 68.4H618.77" stroke="#333" stroke-width="1.1" fill="none"/>
<path d="M390.7 227 L397.99 205.6 L405.27 198.9 L412.56 189 L419.84 182.5 L427.13 178.7 L434.42 175.6 L441.7 169.1 L448.99 164.5 L456.27 159.5 L463.56 153.6 L470.85 150.6 L478.13 146 L485.42 138 L492.71 135 L499.99 131.2 L507.28 125.3 L514.56 121.9 L521.85 116 L529.14 113.2 L536.42 108 L543.71 104.5 L550.99 101.1 L558.28 96 L565.57 93.5 L572.85 89.3 L580.14 86.5 L587.42 82.4 L594.71 79.6 L602 77.6 L609.28 74.5 L616.57 72 L623.86 70.8 L631.14 68 L638.43 64.3 L645.71 62.7 L653 60.6" stroke="#000" stroke-width="1.5" fill="none" stroke-linejoin="round"/>
<g fill="#000"><circle cx="390.7" cy="227" r="2.7"/><circle cx="397.99" cy="205.6" r="2.7"/><circle cx="405.27" cy="198.9" r="2.7"/><circle cx="412.56" cy="189" r="2.7"/><circle cx="419.84" cy="182.5" r="2.7"/><circle cx="427.13" cy="178.7" r="2.7"/><circle cx="434.42" cy="175.6" r="2.7"/><circle cx="441.7" cy="169.1" r="2.7"/><circle cx="448.99" cy="164.5" r="2.7"/><circle cx="456.27" cy="159.5" r="2.7"/><circle cx="463.56" cy="153.6" r="2.7"/><circle cx="470.85" cy="150.6" r="2.7"/><circle cx="478.13" cy="146" r="2.7"/><circle cx="485.42" cy="138" r="2.7"/><circle cx="492.71" cy="135" r="2.7"/><circle cx="499.99" cy="131.2" r="2.7"/><circle cx="507.28" cy="125.3" r="2.7"/><circle cx="514.56" cy="121.9" r="2.7"/><circle cx="521.85" cy="116" r="2.7"/><circle cx="529.14" cy="113.2" r="2.7"/><circle cx="536.42" cy="108" r="2.7"/><circle cx="543.71" cy="104.5" r="2.7"/><circle cx="550.99" cy="101.1" r="2.7"/><circle cx="558.28" cy="96" r="2.7"/><circle cx="565.57" cy="93.5" r="2.7"/><circle cx="572.85" cy="89.3" r="2.7"/><circle cx="580.14" cy="86.5" r="2.7"/><circle cx="587.42" cy="82.4" r="2.7"/><circle cx="594.71" cy="79.6" r="2.7"/><circle cx="602" cy="77.6" r="2.7"/><circle cx="609.28" cy="74.5" r="2.7"/><circle cx="616.57" cy="72" r="2.7"/><circle cx="623.86" cy="70.8" r="2.7"/><circle cx="631.14" cy="68" r="2.7"/><circle cx="638.43" cy="64.3" r="2.7"/><circle cx="645.71" cy="62.7" r="2.7"/><circle cx="653" cy="60.6" r="2.7"/></g>
<path d="M657 60.4H671.8M664.3 60.4V115.3M657 115.3H671.8" stroke="#000" stroke-width="1.4" fill="none"/>
<text transform="translate(663.4 81.8) rotate(90)" style="font:bold 13px 'Liberation Sans',sans-serif" textLength="11.8" lengthAdjust="spacingAndGlyphs">**</text>
<text x="2" y="263.8" text-anchor="start" fill="#000" style="font:bold 21px 'Liberation Sans',sans-serif" textLength="25" lengthAdjust="spacingAndGlyphs">(b)</text>
<text x="300.7" y="263.3" text-anchor="start" fill="#000" style="font:bold 21px 'Liberation Sans',sans-serif" textLength="24" lengthAdjust="spacingAndGlyphs">(d)</text>
</svg>
</body></html>
